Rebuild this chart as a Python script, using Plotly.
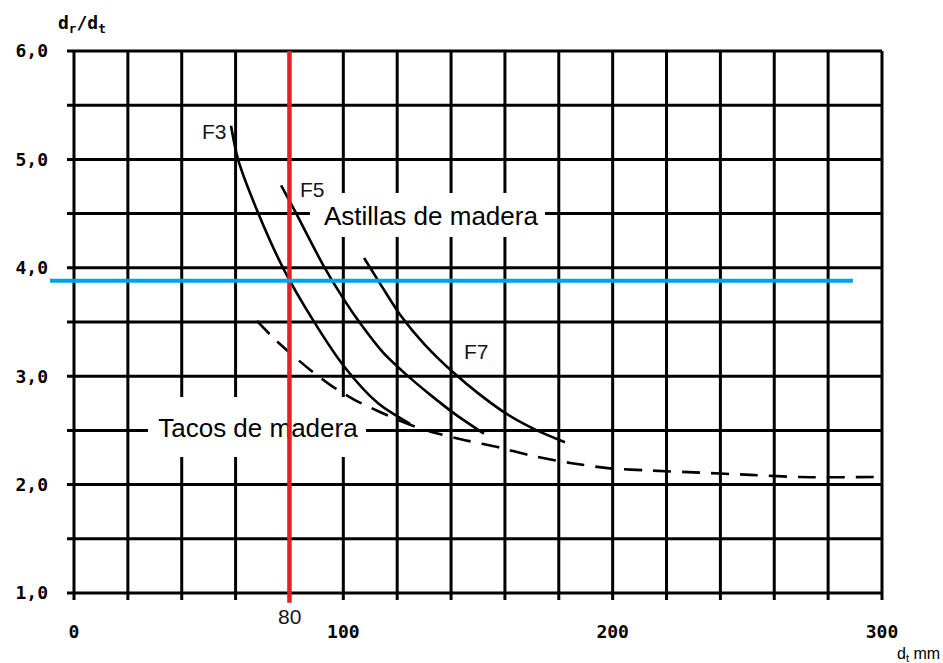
import plotly.graph_objects as go

# ---------------- data ----------------
grid_x = list(range(0, 301, 20))
grid_y = [1.0, 1.5, 2.0, 2.5, 3.0, 3.5, 4.0, 4.5, 5.0, 5.5, 6.0]
x_tick_vals = [0, 100, 200, 300]
x_tick_text = ["0", "100", "200", "300"]
y_tick_vals = [1, 2, 3, 4, 5, 6]
y_tick_text = ["1,0", "2,0", "3,0", "4,0", "5,0", "6,0"]

f3_x = [58.3, 60.9, 68.3, 77.6, 88.7, 100.6, 112.9, 124.8]
f3_y = [5.31, 5.00, 4.51, 4.00, 3.52, 3.08, 2.75, 2.56]
f5_x = [76.9, 82.1, 92.4, 99.9, 106.2, 114.7, 123.6, 132.2, 141.5, 152.2]
f5_y = [4.76, 4.52, 4.03, 3.72, 3.49, 3.22, 3.01, 2.83, 2.65, 2.47]
f7_x = [107.7, 114.0, 121.0, 130.3, 141.5, 150.7, 160.8, 171.9, 182.3]
f7_y = [4.09, 3.84, 3.57, 3.29, 3.02, 2.83, 2.65, 2.50, 2.39]
tacos_x = [67.9, 74.6, 80.9, 87.6, 95.1, 104.3, 113.6, 122.9, 132.2, 145.2,
           158.2, 169.3, 184.2, 199.0, 213.9, 232.4, 251.0, 269.6, 300.0]
tacos_y = [3.51, 3.34, 3.20, 3.06, 2.92, 2.78, 2.67, 2.57, 2.49, 2.41,
           2.34, 2.27, 2.20, 2.15, 2.13, 2.11, 2.09, 2.07, 2.07]

curve_labels = ["F3", "F5", "F7"]
curve_label_x = [52.0, 88.7, 149.6]
curve_label_y = [5.26, 4.72, 3.23]

region_labels = ["Tacos de madera", "Astillas de madera"]
region_label_x = [68.3, 132.4]
region_label_y = [2.50, 4.48]

ref_dt = 80          # red vertical line
ref_ratio = 3.88     # blue horizontal line
ref_dt_label = "80"

# ---------------- styling constants ----------------
BLACK = "#000000"
RED = "#ED1C24"
BLUE = "#00A2E8"
LABEL_C = "#151520"
GRID_W = 3
X_MIN, X_MAX = grid_x[0], grid_x[-1]
Y_MIN, Y_MAX = grid_y[0], grid_y[-1]
X_OVER = 2.6      # overhang of horizontal lines to the left (data units)
Y_OVER = 0.065    # overhang of vertical lines below (data units)
SANS = "Liberation Sans, Arial"

fig = go.Figure()

shapes = []
for gy in grid_y:
    shapes.append(dict(type="line", xref="x", yref="y", layer="between",
                       x0=X_MIN - X_OVER, x1=X_MAX, y0=gy, y1=gy,
                       line=dict(color=BLACK, width=GRID_W)))
for gx in grid_x:
    shapes.append(dict(type="line", xref="x", yref="y", layer="between",
                       x0=gx, x1=gx, y0=Y_MIN - Y_OVER, y1=Y_MAX,
                       line=dict(color=BLACK, width=GRID_W)))
# white label backgrounds (blank areas of the scanned chart)
shapes.append(dict(type="rect", xref="x", yref="y", layer="between",
                   x0=27.5, x1=108.4, y0=2.255, y1=2.808,
                   fillcolor="white", line=dict(width=0)))
shapes.append(dict(type="rect", xref="x", yref="y", layer="between",
                   x0=87.6, x1=174.9, y0=4.284, y1=4.690,
                   fillcolor="white", line=dict(width=0)))

curve_line = dict(color=BLACK, width=2.6, shape="spline", smoothing=0.8)
for cx, cy in [(f3_x, f3_y), (f5_x, f5_y), (f7_x, f7_y)]:
    fig.add_trace(go.Scatter(x=cx, y=cy, mode="lines", line=curve_line,
                             hoverinfo="skip", showlegend=False))
fig.add_trace(go.Scatter(x=tacos_x, y=tacos_y, mode="lines",
                         line=dict(curve_line, dash="18px,11px"),
                         hoverinfo="skip", showlegend=False))

# "Tacos de madera" sits under the red line, so it is a text trace
fig.add_trace(go.Scatter(x=region_label_x[:1], y=region_label_y[:1], mode="text",
                         text=region_labels[:1], textposition="middle center",
                         textfont=dict(family=SANS, size=26, color=BLACK),
                         hoverinfo="skip", showlegend=False, cliponaxis=False))

# reference lines
fig.add_trace(go.Scatter(x=[ref_dt, ref_dt], y=[Y_MAX, 0.91], mode="lines",
                         line=dict(color=RED, width=4.5),
                         hoverinfo="skip", showlegend=False))
fig.add_trace(go.Scatter(x=[-8.9, 289.2], y=[ref_ratio, ref_ratio], mode="lines",
                         line=dict(color=BLUE, width=4),
                         hoverinfo="skip", showlegend=False))

annotations = [
    dict(text=region_labels[1], x=region_label_x[1], y=region_label_y[1],
         xref="x", yref="y", showarrow=False, xanchor="center", yanchor="middle",
         font=dict(family=SANS, size=26, color=BLACK)),
    dict(text=ref_dt_label, x=ref_dt, y=-0.021, xref="x", yref="paper", showarrow=False,
         xanchor="center", yanchor="middle",
         font=dict(family=SANS, size=21, color=LABEL_C)),
    dict(text="d<sub>r</sub>/d<sub>t</sub>", xref="paper", yref="paper",
         x=0.0394, y=1.039, xanchor="center", yanchor="middle", showarrow=False,
         font=dict(family="DejaVu Sans Mono", size=18, color=BLACK, weight="bold")),
    dict(text="d<sub>t</sub> mm", xref="paper", yref="paper",
         x=1.067, y=-0.0894, xanchor="right", yanchor="middle", showarrow=False,
         font=dict(family=SANS, size=16, color=BLACK)),
]
for lab, lx, ly in zip(curve_labels, curve_label_x, curve_label_y):
    annotations.append(dict(text=lab, x=lx, y=ly, xref="x", yref="y", showarrow=False,
                            xanchor="center", yanchor="middle",
                            font=dict(family=SANS, size=21, color=LABEL_C)))

tick_font = dict(family="DejaVu Sans Mono", size=18, color=BLACK, weight="bold")

fig.update_layout(
    width=943, height=663,
    margin=dict(l=49, r=57, t=46, b=58),
    paper_bgcolor="white", plot_bgcolor="white",
    shapes=shapes,
    annotations=annotations,
    showlegend=False,
    xaxis=dict(range=[-9.28, 301.49], tickvals=x_tick_vals, ticktext=x_tick_text,
               showgrid=False, zeroline=False, showline=False, ticks="",
               tickfont=tick_font, ticklabelstandoff=14, fixedrange=True),
    yaxis=dict(range=[0.8893, 6.046], tickvals=y_tick_vals, ticktext=y_tick_text,
               showgrid=False, zeroline=False, showline=False, ticks="",
               tickfont=tick_font, ticklabelstandoff=0, fixedrange=True),
)

fig.write_html("out.html")
